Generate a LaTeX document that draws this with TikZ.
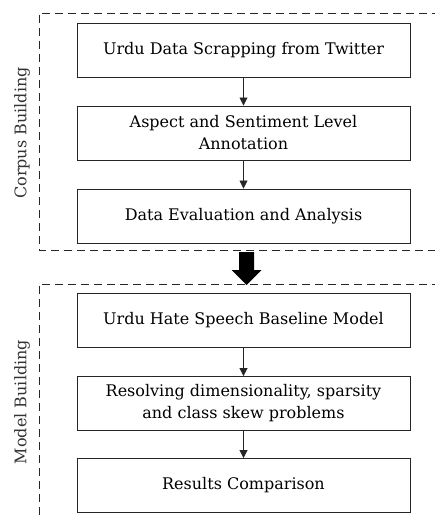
\documentclass[tikz,border=0pt]{standalone}
\usepackage{fontspec}
\setmainfont{DejaVu Serif}
\usetikzlibrary{arrows.meta}
\begin{document}
\begin{tikzpicture}[x=1pt,y=-1pt,
  stepbox/.style={draw=black!85, line width=0.9pt, minimum width=333pt, minimum height=54pt, inner sep=0pt, align=center, font=\fontsize{16}{22}\selectfont},
  flow/.style={draw=black!85, line width=0.8pt, -{Triangle[length=8pt,width=8pt]}},
  frame/.style={draw=black!85, line width=0.8pt, dash pattern=on 8pt off 5pt},
  side/.style={rotate=90, font=\fontsize{16}{18}\selectfont, text=black!80}]
\useasboundingbox (0,0) rectangle (434,519);
% frames
\draw[frame] (440,13) -- (39,13) -- (39,250) -- (440,250);
\draw[frame] (440,284) -- (39,284) -- (39,525);
\node[side] (cb) at (22,133) {Corpus Building};
\node[side] (mb) at (22,402) {Model Building};
% boxes
\node[stepbox] (b1) at (243.5,50) {Urdu Data Scrapping from Twitter};
\node[stepbox] (b2) at (243.5,133) {Aspect and Sentiment Level\\Annotation};
\node[stepbox] (b3) at (243.5,216) {Data Evaluation and Analysis};
\node[stepbox] (b4) at (243.5,320) {Urdu Hate Speech Baseline Model};
\node[stepbox] (b5) at (243.5,403.5) {Resolving dimensionality, sparsity\\and class skew problems};
\node[stepbox] (b6) at (243.5,485.5) {Results Comparison};
\draw[flow] (b1) -- (b2);
\draw[flow] (b2) -- (b3);
\draw[flow] (b4) -- (b5);
\draw[flow] (b5) -- (b6);
% big arrow
\coordinate (ba) at (246.5,252);
\fill[black] (ba) ++(-7.5,0) -- ++(15,0) -- ++(0,18) -- ++(7.5,0) -- (246.5,285) -- (231.5,270) -- ++(7.5,0) -- cycle;
\end{tikzpicture}
\end{document}
